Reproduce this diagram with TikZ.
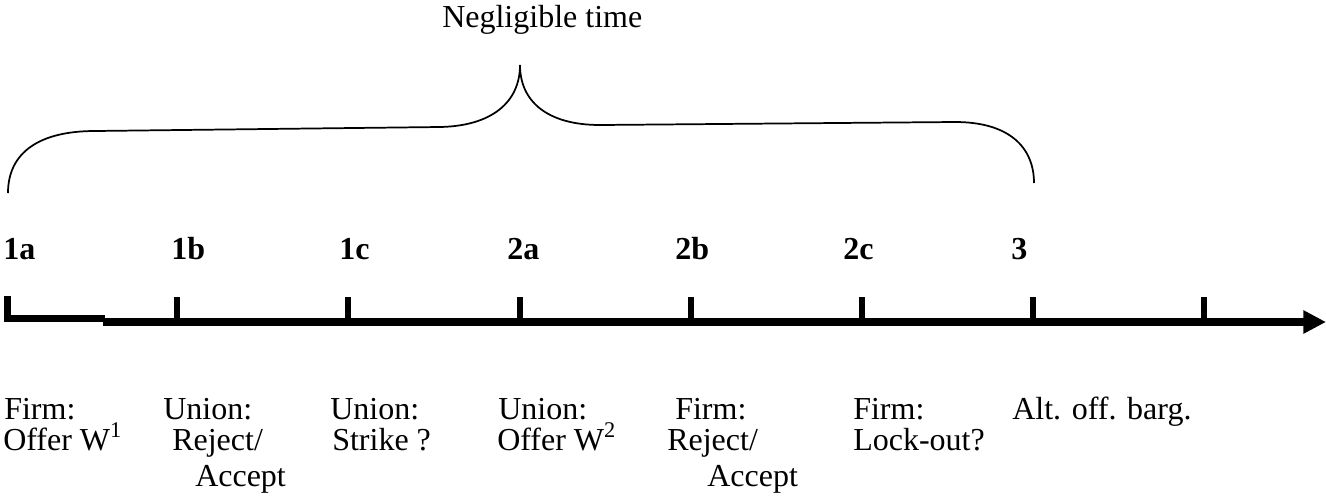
\documentclass[tikz,border=0pt]{standalone}
\usepackage{fontspec}
\setmainfont{Liberation Serif}
\usetikzlibrary{arrows.meta}
\begin{document}
\begin{tikzpicture}[x=0.75pt,y=-0.75pt,
  lbl/.style={anchor=base west,inner sep=0pt,font=\fontsize{24}{28}\selectfont},
  stage/.style={anchor=base west,inner sep=0pt,font=\fontsize{24}{28}\selectfont\bfseries},
  axisline/.style={line width=5.5pt},
  tickline/.style={line width=4pt},
  braceline/.style={line width=1.3pt}]
\useasboundingbox (0,0) rectangle (1326,497);

% brace
\coordinate (bl) at (8,193);
\coordinate (bl2) at (95,131);
\coordinate (bm1) at (440,127);
\coordinate (tip) at (520,65);
\coordinate (bm2) at (600,125);
\coordinate (br2) at (955,122);
\coordinate (br) at (1034,183);
\draw[braceline] (bl) .. controls (8,152) and (40,131) .. (bl2) -- (bm1)
  .. controls (492,126) and (520,102) .. (tip)
  .. controls (520,102) and (548,125) .. (bm2) -- (br2)
  .. controls (1010,122) and (1034,148) .. (br);
\node[lbl] (neg) at (442,27) {Negligible time};

% axis
\coordinate (a0) at (7.5,296);
\coordinate (a1) at (7.5,318.5);
\coordinate (a2) at (105,318.5);
\coordinate (m0) at (103,322);
\coordinate (m1) at (1326,322);
\draw[line width=5pt] (a0) -- (a1) -- (a2);
\draw[axisline,-{Triangle[length=17pt,width=16.5pt]}] (m0) -- (m1);
\foreach \n/\x in {1/177,2/348,3/520,4/691,5/862,6/1033,7/1204} {
  \coordinate (tt\n) at (\x,297);
  \coordinate (tb\n) at (\x,322);
  \draw[tickline] (tt\n) -- (tb\n);
}

% stage labels
\node[stage] (s1a) at (3,259) {1a};
\node[stage] (s1b) at (171,259) {1b};
\node[stage] (s1c) at (339,259) {1c};
\node[stage] (s2a) at (507,259) {2a};
\node[stage] (s2b) at (675,259) {2b};
\node[stage] (s2c) at (843,259) {2c};
\node[stage] (s3) at (1011,259) {3};

% descriptions
\node[lbl] (d1a1) at (4,419) {Firm:};
\node[lbl] (d1a2) at (3,450) {Offer W\textsuperscript{1}};
\node[lbl] (d1b1) at (163,419) {Union:};
\node[lbl] (d1b2) at (172,450) {Reject/};
\node[lbl] (d1b3) at (195,486) {Accept};
\node[lbl] (d1c1) at (330,419) {Union:};
\node[lbl] (d1c2) at (332,450) {Strike ?};
\node[lbl] (d2a1) at (498,419) {Union:};
\node[lbl] (d2a2) at (497,450) {Offer W\textsuperscript{2}};
\node[lbl] (d2b1) at (675,419) {Firm:};
\node[lbl] (d2b2) at (667,450) {Reject/};
\node[lbl] (d2b3) at (707,486) {Accept};
\node[lbl] (d2c1) at (853,419) {Firm:};
\node[lbl] (d2c2) at (853,450) {Lock-out?};
\node[lbl] (d31) at (1012,419) {Alt. off. barg.};
\end{tikzpicture}
\end{document}
